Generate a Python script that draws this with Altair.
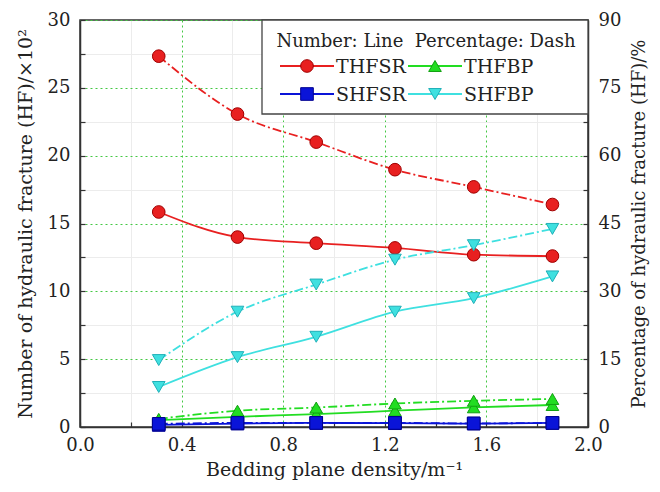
import altair as alt
import pandas as pd

density = [0.31, 0.62, 0.93, 1.24, 1.55, 1.86]
series = ['THFSR', 'THFBP', 'SHFSR', 'SHFBP']

# number of HF (x10^2), left axis
thfsr_num = [15.85, 14.0, 13.55, 13.2, 12.7, 12.6]
thfbp_num = [0.5, 0.75, 0.95, 1.2, 1.45, 1.62]
shfsr_num = [0.15, 0.25, 0.3, 0.28, 0.25, 0.3]
shfbp_num = [2.95, 5.15, 6.65, 8.5, 9.5, 11.1]

# percentage of HF (%), right axis
thfsr_pct = [82.0, 69.2, 63.0, 56.9, 53.1, 49.2]
thfbp_pct = [1.8, 3.6, 4.3, 5.2, 5.8, 6.2]
shfsr_pct = [0.7, 0.9, 0.9, 0.9, 0.8, 0.9]
shfbp_pct = [14.8, 25.5, 31.5, 37.0, 40.2, 43.8]

colors = ['#e82020', '#22dd22', '#0a14d8', '#3fe0e0']
edges = ['#a00000', '#10a010', '#000090', '#20b0b8']
shapes = ['circle', 'triangle-up', 'square', 'triangle-down']

FONT = 'DejaVu Serif'


def long_df(cols):
    rows = []
    for name, vals in zip(series, cols):
        for d, v in zip(density, vals):
            rows.append({'density': d, 'series': name, 'value': v})
    return pd.DataFrame(rows)


num_df = long_df([thfsr_num, thfbp_num, shfsr_num, shfbp_num])
pct_df = long_df([thfsr_pct, thfbp_pct, shfsr_pct, shfbp_pct])

x_ticks = [round(i * 0.2, 1) for i in range(11)]
yl_ticks = [i * 2.5 for i in range(13)]
yr_ticks = [i * 7.5 for i in range(13)]

color = alt.Color('series:N', scale=alt.Scale(domain=series, range=colors), legend=None)
stroke = alt.Stroke('series:N', scale=alt.Scale(domain=series, range=edges), legend=None)
shape = alt.Shape('series:N', scale=alt.Scale(domain=series, range=shapes), legend=None)

x_major = 'round(datum.value * 10) % 4 == 0'
x_axis = alt.Axis(
    values=x_ticks, labelExpr=f"{x_major} ? format(datum.value, '.1f') : ''",
    tickSize=0, labelFlush=False, domainColor='#333', domainWidth=1.5,
    labelFont=FONT, labelFontSize=18, labelPadding=9, labelColor='#222',
    titleFont=FONT, titleFontSize=19, titleFontWeight='normal', titlePadding=6, titleColor='#222',
    grid=True,
    gridColor={'condition': {'test': x_major, 'value': '#44c844'}, 'value': '#ececec'},
    gridDash={'condition': {'test': x_major, 'value': [2, 3]}, 'value': []},
)
yl_axis = alt.Axis(
    orient='left', values=yl_ticks,
    labelExpr="datum.value % 5 == 0 ? format(datum.value, 'd') : ''",
    tickSize=0, labelFlush=False, domainColor='#333', domainWidth=1.5,
    labelFont=FONT, labelFontSize=18, labelPadding=10, labelColor='#222',
    titleFont=FONT, titleFontSize=19, titleFontWeight='normal', titlePadding=12, titleColor='#222',
    grid=True,
    gridColor={'condition': {'test': 'datum.value % 5 == 0', 'value': '#44c844'}, 'value': '#ececec'},
    gridDash={'condition': {'test': 'datum.value % 5 == 0', 'value': [2, 3]}, 'value': []},
)
yr_axis = alt.Axis(
    orient='right', values=yr_ticks,
    labelExpr="datum.value % 15 == 0 ? format(datum.value, 'd') : ''",
    tickSize=0, labelFlush=False, domainColor='#333', domainWidth=1.5,
    labelFont=FONT, labelFontSize=18, labelPadding=10, labelColor='#222',
    titleFont=FONT, titleFontSize=18, titleFontWeight='normal', titlePadding=10, titleColor='#222',
    titleAngle=270, titleBaseline='top', grid=False,
)


def tick_axis(orient, values):
    # ticks only, pulled inside the frame
    return alt.Axis(orient=orient, values=values, labels=False, domain=False, grid=False,
                    ticks=True, tickSize=5, offset=-5, tickColor='#333', tickWidth=1.2)


x_dom = alt.Scale(domain=[0, 2], nice=False)
yl_dom = alt.Scale(domain=[0, 30], nice=False)
yr_dom = alt.Scale(domain=[0, 90], nice=False)

num_line = alt.Chart(num_df).mark_line(strokeWidth=1.8, interpolate='monotone').encode(
    x=alt.X('density:Q', scale=x_dom, axis=x_axis, title='Bedding plane density/m⁻¹'),
    y=alt.Y('value:Q', scale=yl_dom, axis=yl_axis, title='Number of hydraulic fracture (HF)/×10²'),
    color=color,
)
num_pts = alt.Chart(num_df).mark_point(filled=True, size=160, strokeWidth=1, opacity=1).encode(
    x=alt.X('density:Q', scale=x_dom, axis=tick_axis('bottom', x_ticks), title=''),
    y=alt.Y('value:Q', scale=yl_dom, axis=tick_axis('left', yl_ticks), title=''),
    color=color, stroke=stroke, shape=shape,
)
pct_line = alt.Chart(pct_df).mark_line(strokeWidth=1.8, interpolate='monotone',
                                       strokeDash=[9, 3, 2, 3]).encode(
    x=alt.X('density:Q', scale=x_dom, axis=None),
    y=alt.Y('value:Q', scale=yr_dom, axis=yr_axis, title='Percentage of hydraulic fracture (HF)/%'),
    color=color,
)
pct_pts = alt.Chart(pct_df).mark_point(filled=True, size=160, strokeWidth=1, opacity=1).encode(
    x=alt.X('density:Q', scale=x_dom, axis=None),
    y=alt.Y('value:Q', scale=yr_dom, axis=tick_axis('right', yr_ticks), title=''),
    color=color, stroke=stroke, shape=shape,
)

# legend box drawn by hand, in plot pixels
col_x = [200, 328]
row_y = [46, 74]
leg = pd.DataFrame({'series': series})
leg['x1'] = [col_x[i % 2] for i in range(4)]
leg['x2'] = leg['x1'] + 54
leg['xm'] = leg['x1'] + 27
leg['xt'] = leg['x1'] + 56
leg['ly'] = [row_y[i // 2] for i in range(4)]
leg['ty'] = leg['ly'] + 7

one = alt.Data(values=[{}])
box = alt.Chart(one).mark_rect(fill='white', stroke='#444', strokeWidth=1.3).encode(
    x=alt.value(182), x2=alt.value(508), y=alt.value(0), y2=alt.value(94))
leg_title = alt.Chart(one).mark_text(
    text='Number: Line\u00a0 Percentage: Dash', font=FONT, fontSize=18, align='center',
    baseline='alphabetic', color='#222').encode(x=alt.value(346), y=alt.value(27))
leg_seg = alt.Chart(leg).mark_rule(strokeWidth=1.8).encode(
    x=alt.X('x1:Q', scale=None), x2='x2:Q', y=alt.Y('ly:Q', scale=None), color=color)
leg_pts = alt.Chart(leg).mark_point(filled=True, size=160, strokeWidth=1, opacity=1).encode(
    x=alt.X('xm:Q', scale=None), y=alt.Y('ly:Q', scale=None),
    color=color, stroke=stroke, shape=shape)
leg_txt = alt.Chart(leg).mark_text(font=FONT, fontSize=19, align='left', baseline='alphabetic',
                                   color='#222').encode(
    x=alt.X('xt:Q', scale=None), y=alt.Y('ty:Q', scale=None), text='series:N')

chart = alt.layer(
    num_line, pct_line, num_pts, pct_pts, box, leg_title, leg_seg, leg_pts, leg_txt
).resolve_scale(
    x='independent', y='independent'
).properties(
    width=508, height=407,
    autosize=alt.AutoSizeParams(type='none'),
    padding={'left': 72, 'top': 12, 'right': 64, 'bottom': 57},
    background='white',
).configure_view(stroke='#333', strokeWidth=1.5)

chart.save('out.html', embed_options={'renderer': 'svg', 'actions': False})
